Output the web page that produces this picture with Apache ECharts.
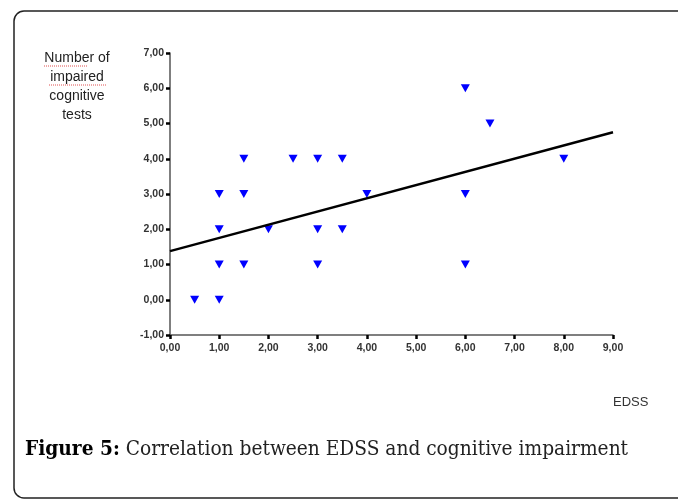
<!DOCTYPE html>
<html><head><meta charset="utf-8">
<script src="https://cdn.jsdelivr.net/npm/echarts@6/dist/echarts.min.js"></script>
<style>html,body{margin:0;padding:0;background:#fff}#c{width:678px;height:502px}</style>
</head><body><div id="c"></div>
<script>
// Data
const edss = [0.5, 1, 1, 1, 1, 1.5, 1.5, 1.5, 2, 2.5, 3, 3, 3, 3.5, 3.5, 4, 6, 6, 6, 6.5, 8];
const impaired = [0, 0, 1, 2, 3, 1, 3, 4, 2, 4, 4, 2, 1, 4, 2, 3, 6, 3, 1, 5, 4];
const fitX = [0, 9];
const fitY = [1.38, 4.75];
const yTicks = [-1, 0, 1, 2, 3, 4, 5, 6, 7];
const xTicks = [0, 1, 2, 3, 4, 5, 6, 7, 8, 9];
const yTitle = 'Number of\nimpaired\ncognitive\ntests';
const xTitle = 'EDSS';
const captionBold = 'Figure 5:';
const captionText = ' Correlation between EDSS and cognitive impairment';

const fmt = v => v.toFixed(2).replace('.', ',');
const chart = echarts.init(document.getElementById('c'), null, {renderer: 'canvas'});
const axisCommon = {
  axisLine: {show: true, onZero: false, lineStyle: {color: '#555', width: 1.5}},
  axisTick: {show: true, length: 4, lineStyle: {color: '#000', width: 2.5}},
  splitLine: {show: false},
  axisLabel: {color: '#333', fontFamily: 'Liberation Sans, Arial', fontSize: 10.5, fontWeight: 'bold', formatter: fmt}
};
chart.setOption({
  animation: false,
  backgroundColor: '#fff',
  grid: {left: 170, top: 53, right: 65, bottom: 167, containLabel: false},
  xAxis: Object.assign({type: 'value', min: xTicks[0], max: xTicks[xTicks.length - 1], interval: 1}, axisCommon,
    {axisLabel: Object.assign({}, axisCommon.axisLabel, {margin: 8})}),
  yAxis: Object.assign({type: 'value', min: yTicks[0], max: yTicks[yTicks.length - 1], interval: 1}, axisCommon,
    {axisLabel: Object.assign({}, axisCommon.axisLabel, {margin: 6})}),
  graphic: [
    {type: 'rect', shape: {x: 14, y: 11, width: 720, height: 487, r: 10}, style: {fill: 'none', stroke: '#222', lineWidth: 1.5}, z: 0},
    {type: 'text', x: 77, y: 49, style: {text: yTitle, fill: '#222', font: '14px "Liberation Sans", Arial', align: 'center', verticalAlign: 'top', lineHeight: 19}, z: 5},
    {type: 'line', shape: {x1: 44, y1: 66, x2: 88, y2: 66}, style: {stroke: '#e05050', lineWidth: 1, lineDash: [1, 1]}, z: 4},
    {type: 'line', shape: {x1: 49, y1: 85, x2: 106, y2: 85}, style: {stroke: '#e05050', lineWidth: 1, lineDash: [1, 1]}, z: 4},
    {type: 'text', x: 613, y: 396, style: {text: xTitle, fill: '#333', font: '13px "Liberation Sans", Arial', verticalAlign: 'top'}},
    {type: 'text', x: 25, y: 439, style: {rich: {b: {font: 'bold 20.7px "DejaVu Serif Condensed", "DejaVu Serif", serif', fill: '#000'}, n: {font: '20.7px "DejaVu Serif Condensed", "DejaVu Serif", serif', fill: '#222'}},
      text: '{b|' + captionBold + '}{n|' + captionText + '}', verticalAlign: 'top'}}
  ],
  series: [
    {type: 'scatter', data: edss.map((x, i) => [x, impaired[i]]), symbol: 'triangle', symbolRotate: 180, symbolSize: [9, 8],
      itemStyle: {color: '#0000ff', opacity: 1}, z: 3},
    {type: 'line', data: fitX.map((x, i) => [x, fitY[i]]), showSymbol: false, symbol: 'none',
      lineStyle: {color: '#000', width: 2.5}, z: 4}
  ]
});
</script></body></html>
